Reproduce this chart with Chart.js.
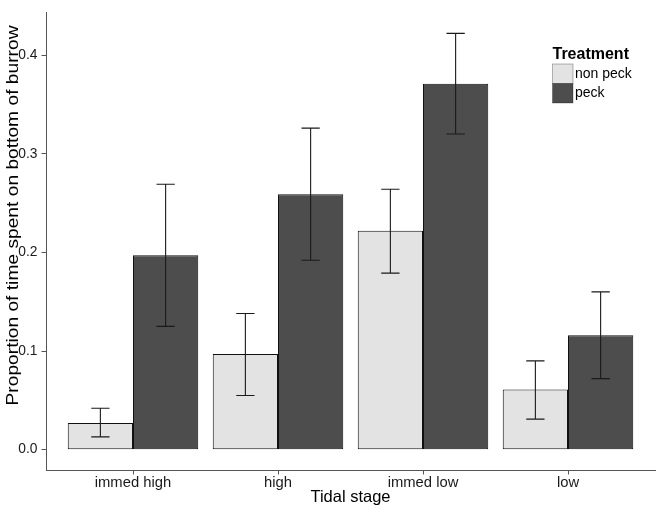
<!DOCTYPE html>
<html>
<head>
<meta charset="utf-8">
<script src="https://cdn.jsdelivr.net/npm/chart.js@4/dist/chart.umd.min.js"></script>
<style>
  html, body { margin: 0; padding: 0; background: #fff; }
</style>
</head>
<body>
<canvas id="tidal-chart" width="662" height="513"></canvas>

<script>
    // data
    const stages = ['immed high', 'high', 'immed low', 'low'];
    const treatments = ['non peck', 'peck'];
    const nonPeck = [0.027, 0.097, 0.222, 0.061];
    const peck = [0.197, 0.259, 0.371, 0.116];
    const nonPeckLow = [0.013, 0.055, 0.179, 0.031];
    const nonPeckHigh = [0.042, 0.138, 0.264, 0.090];
    const peckLow = [0.125, 0.192, 0.320, 0.072];
    const peckHigh = [0.269, 0.326, 0.422, 0.160];
    const yTicks = [0, 0.1, 0.2, 0.3, 0.4];

    const fills = ['#e3e3e3', '#4d4d4d'];
    const errLow = [nonPeckLow, peckLow];
    const errHigh = [nonPeckHigh, peckHigh];
    const FONT = '"Liberation Sans", Arial, Helvetica, sans-serif';

    // error bars on top of the bars
    const errorBars = {
        id: 'errorBars',
        afterDatasetsDraw(chart) {
            const { ctx, scales: { y } } = chart;
            ctx.save();
            ctx.strokeStyle = '#1a1a1a';
            ctx.lineWidth = 1.1;
            chart.data.datasets.forEach((ds, d) => {
                chart.getDatasetMeta(d).data.forEach((bar, i) => {
                    const x = bar.x, cap = bar.width * 0.14;
                    const top = y.getPixelForValue(errHigh[d][i]);
                    const bot = y.getPixelForValue(errLow[d][i]);
                    ctx.beginPath();
                    ctx.moveTo(x, top); ctx.lineTo(x, bot);
                    ctx.moveTo(x - cap, top); ctx.lineTo(x + cap, top);
                    ctx.moveTo(x - cap, bot); ctx.lineTo(x + cap, bot);
                    ctx.stroke();
                });
            });
            ctx.restore();
        }
    };

    // axis titles + ggplot-style legend inside the panel
    const decorations = {
        id: 'decorations',
        afterDraw(chart) {
            const { ctx, chartArea } = chart;
            ctx.save();
            ctx.fillStyle = '#000';

            // x title
            ctx.font = `16.5px ${FONT}`;
            ctx.textAlign = 'center';
            ctx.textBaseline = 'alphabetic';
            ctx.fillText('Tidal stage', (chartArea.left + chartArea.right) / 2, 502);

            // y title, stretched a bit to match the original length
            const yTitle = 'Proportion of time spent on bottom of burrow';
            ctx.font = `17px ${FONT}`;
            const w = ctx.measureText(yTitle).width;
            ctx.save();
            ctx.translate(17.5, 215.5);
            ctx.rotate(-Math.PI / 2);
            ctx.scale(380 / w, 1);
            ctx.fillText(yTitle, 0, 0);
            ctx.restore();

            // legend
            ctx.textAlign = 'left';
            ctx.font = `bold 16px ${FONT}`;
            ctx.fillText('Treatment', 552.5, 59);
            ctx.font = `14px ${FONT}`;
            ctx.textBaseline = 'middle';
            treatments.forEach((t, k) => {
                const top = 64 + k * 19.5;
                ctx.fillStyle = fills[k];
                ctx.fillRect(552.5, top, 20.5, 19.5);
                ctx.strokeStyle = 'rgba(0,0,0,0.35)';
                ctx.lineWidth = 0.8;
                ctx.strokeRect(552.5, top, 20.5, 19.5);
                ctx.fillStyle = '#000';
                ctx.fillText(t, 575, top + 10);
            });
            ctx.restore();
        }
    };

    const ctx = document.getElementById('tidal-chart').getContext('2d');
    new Chart(ctx, {
        type: 'bar',
        data: {
            datasets: [nonPeck, peck].map((vals, d) => ({
                label: treatments[d],
                data: vals.map((v, i) => ({ x: i, y: v })),
                backgroundColor: fills[d],
                borderColor: '#111',
                borderWidth: 1,
                borderSkipped: false,
                barPercentage: 1.0,
                categoryPercentage: 0.9
            }))
        },
        options: {
            responsive: false,
            animation: false,
            layout: { padding: { top: 5.5, right: 7, left: 0, bottom: 0 } },
            plugins: { legend: { display: false }, tooltip: { enabled: false } },
            scales: {
                x: {
                    type: 'linear',
                    offset: false,
                    min: -0.6, max: 3.6,
                    afterBuildTicks: s => { s.ticks = stages.map((_, i) => ({ value: i })); },
                    afterFit: s => { s.height = 42.5; },
                    ticks: {
                        callback: v => stages[v] ?? '',
                        color: '#1a1a1a', padding: 0,
                        font: { family: FONT, size: 14.8 },
                        maxRotation: 0
                    },
                    grid: { display: true, offset: false, drawOnChartArea: false, drawTicks: true, tickLength: 4, color: '#555' },
                    border: { display: true, color: '#555', width: 1 }
                },
                y: {
                    min: -0.0211, max: 0.4434,
                    afterBuildTicks: s => { s.ticks = yTicks.map(v => ({ value: v })); },
                    afterFit: s => { s.width = 46; },
                    ticks: {
                        callback: v => v.toFixed(1),
                        color: '#1a1a1a', padding: 4,
                        font: { family: FONT, size: 13.8 }
                    },
                    grid: { display: true, drawOnChartArea: false, drawTicks: true, tickLength: 4.5, color: '#555' },
                    border: { display: true, color: '#555', width: 1 }
                }
            }
        },
        plugins: [errorBars, decorations]
    });
</script>
</body>
</html>
